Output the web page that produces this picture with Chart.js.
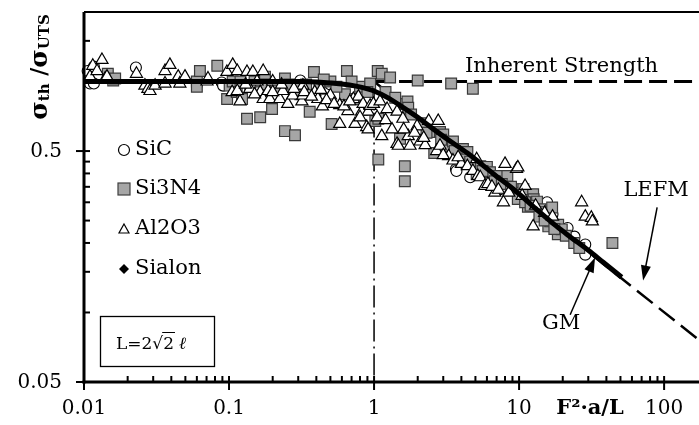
<!DOCTYPE html>
<html>
<head>
<meta charset="utf-8">
<script src="https://cdn.jsdelivr.net/npm/chart.js@4.4.0/dist/chart.umd.min.js"></script>
<style>
  html, body { margin: 0; padding: 0; background: #fff; overflow: hidden; }
  canvas { display: block; }
</style>
</head>
<body>
<canvas id="chart" width="699" height="425"></canvas>
<script>
// tick values
var xTicks = [0.01, 0.1, 1, 10, 100];
var xTickLabels = ['0.01', '0.1', '1', '10', '100'];
var yTicks = [0.05, 0.5];
var yTickLabels = ['0.05', '0.5'];
var minorSteps = [2, 3, 4, 5, 6, 7, 8, 9];
var yMinor = [0.1, 0.15, 0.2, 0.25, 0.3, 0.35, 0.4, 0.45, 1.0, 1.5];

// SiC (open circles)
var sicX = [0.0106, 0.011, 0.0117, 0.0117, 0.0228, 0.089, 0.091, 0.31, 0.5, 3.67, 3.7, 4.6, 7.4, 10.2, 15.6, 17, 21.6, 24.1, 28.6, 28.6];
var sicY = [1.11, 0.98, 1.16, 0.98, 1.15, 0.99, 0.96, 1.01, 0.97, 0.418, 0.41, 0.385, 0.342, 0.325, 0.30, 0.266, 0.232, 0.213, 0.197, 0.178];

// Si3N4 (grey squares)
var si3n4X = [0.0146, 0.0159, 0.0164, 0.06, 0.06, 0.063, 0.083, 0.097, 0.101, 0.106, 0.113, 0.123, 0.133, 0.15, 0.164, 0.177, 0.198, 0.243, 0.243, 0.285,
  0.295, 0.31, 0.36, 0.385, 0.42, 0.5, 0.51, 0.63, 0.65, 0.74, 0.8, 0.87, 0.94, 1.02, 1.06, 1.07, 1.07, 1.13, 1.29, 1.51,
  1.58, 1.63, 1.63, 1.7, 1.72, 2.0, 2.55, 2.6, 2.85, 3.0, 3.2, 3.4, 3.5, 3.8, 3.9, 4.1, 4.4, 4.8, 5.1, 5.4,
  6.0, 6.3, 7.1, 8.3, 9.3, 10.2, 10.7, 11.5, 12.5, 12.6, 13.3, 14.0, 14.6, 15.9, 16.4, 16.9, 18.5, 18.6, 19.7, 44,
  0.12, 0.14, 0.18, 0.21, 0.26, 0.34, 0.45, 0.55, 0.7, 0.9, 1.2, 1.4, 1.8, 2.2, 2.3, 2.9, 3.6, 4.2, 4.6, 5.6,
  6.8, 7.6, 8.8, 9.8, 11, 12, 13.8, 15, 17.5, 21, 24, 26];
var si3n4Y = [1.08, 1.01, 1.03, 1.0, 0.95, 1.11, 1.17, 0.84, 0.96, 1.0, 0.90, 0.84, 0.69, 1.0, 0.70, 1.05, 0.76, 1.03, 0.61, 0.585,
  0.93, 0.88, 0.74, 1.10, 0.93, 1.0, 0.655, 0.88, 1.11, 0.84, 0.95, 0.76, 0.98, 0.675, 1.11, 0.69, 0.46, 1.08, 1.04, 0.565,
  0.80, 0.43, 0.37, 0.82, 0.77, 1.01, 0.605, 0.49, 0.605, 0.59, 0.527, 0.98, 0.55, 0.46, 0.495, 0.51, 0.495, 0.93, 0.397, 0.43,
  0.427, 0.405, 0.39, 0.39, 0.342, 0.33, 0.342, 0.287, 0.325, 0.309, 0.302, 0.28, 0.272, 0.236, 0.248, 0.285, 0.218, 0.24, 0.229, 0.20,
  1.0, 0.95, 0.97, 0.93, 0.97, 0.97, 1.02, 0.95, 1.0, 0.9, 0.9, 0.85, 0.72, 0.66, 0.6, 0.56, 0.5, 0.46, 0.45, 0.41,
  0.37, 0.36, 0.35, 0.31, 0.30, 0.29, 0.26, 0.25, 0.23, 0.215, 0.2, 0.19];

// Al2O3 (open triangles)
var al2o3X = [0.011, 0.0115, 0.0123, 0.0133, 0.014, 0.0144, 0.023, 0.0263, 0.0276, 0.0285, 0.0309, 0.0362, 0.0362, 0.0391, 0.0446, 0.0458, 0.0497, 0.0705, 0.0716, 0.0967,
  0.105, 0.106, 0.114, 0.114, 0.119, 0.133, 0.139, 0.146, 0.156, 0.164, 0.172, 0.172, 0.186, 0.191, 0.2, 0.224, 0.235, 0.254, 0.275, 0.318,
  0.323, 0.323, 0.39, 0.41, 0.44, 0.5, 0.58, 0.58, 0.66, 0.72, 0.74, 0.78, 0.82, 0.84, 0.89, 0.91, 0.91, 0.94, 0.99, 1.1,
  1.13, 1.23, 1.33, 1.44, 1.44, 1.47, 1.58, 1.72, 1.77, 1.98, 2.08, 2.25, 2.38, 2.7, 2.77, 2.85, 3.27, 3.5, 4.0, 4.4,
  4.8, 5.1, 5.2, 5.4, 5.8, 6.1, 6.8, 7.8, 8.0, 9.6, 9.8, 11.0, 12.5, 27, 28.6, 31.5, 32,
  0.13, 0.15, 0.2, 0.23, 0.28, 0.33, 0.37, 0.43, 0.47, 0.53, 0.62, 0.68, 0.8, 1.05, 1.2, 1.6, 1.9, 2.2, 3.0, 3.8,
  6.5, 7.2, 8.5, 10.5, 13, 15, 17];
var al2o3Y = [1.05, 1.17, 1.11, 1.24, 1.03, 1.05, 1.08, 0.96, 0.93, 0.91, 0.96, 1.11, 0.98, 1.18, 1.05, 0.98, 1.05, 1.0, 1.03, 1.10,
  0.90, 1.18, 1.11, 0.91, 0.82, 1.10, 0.93, 1.10, 1.0, 0.90, 1.11, 0.84, 0.91, 0.84, 1.0, 0.84, 0.91, 0.80, 0.87, 0.82,
  0.96, 0.87, 0.90, 0.84, 0.78, 0.87, 0.79, 0.655, 0.745, 0.84, 0.655, 0.86, 0.74, 0.80, 0.635, 0.74, 0.62, 0.785, 0.80, 0.82,
  0.58, 0.76, 0.62, 0.74, 0.537, 0.527, 0.69, 0.58, 0.527, 0.64, 0.55, 0.53, 0.675, 0.50, 0.675, 0.527, 0.475, 0.455, 0.44, 0.43,
  0.41, 0.461, 0.39, 0.385, 0.353, 0.36, 0.33, 0.30, 0.44, 0.418, 0.425, 0.353, 0.236, 0.30, 0.26, 0.257, 0.248,
  0.97, 0.88, 0.9, 0.97, 0.93, 0.9, 0.86, 0.92, 0.83, 0.8, 0.78, 0.82, 0.7, 0.7, 0.68, 0.62, 0.6, 0.57, 0.48, 0.47,
  0.35, 0.34, 0.33, 0.32, 0.29, 0.27, 0.26];

// Sialon (black diamonds) - not visible in the plot body
var sialonX = [];
var sialonY = [];

// GM model curve
var gmX = [0.01, 0.05, 0.1, 0.2, 0.3, 0.45, 0.6, 0.75, 0.9, 1.0, 1.25, 1.5, 2.0, 2.5, 3.3, 4.4, 6.6, 9.5, 13, 18, 22, 30, 38, 51];
var gmY = [1.0, 1.0, 1.0, 1.0, 1.0, 0.99, 0.975, 0.955, 0.93, 0.91, 0.85, 0.79, 0.70, 0.63, 0.555, 0.49, 0.40, 0.335, 0.282, 0.237, 0.215, 0.186, 0.165, 0.142];

// reference lines
var inherentX = [1, 174];
var inherentY = [1, 1];
var lefmX = [1, 174];
var lefmY = [1, 0.076];
var critX = [1, 1];
var critY = [1, 0.05];

var FONT = '"DejaVu Serif", serif';

function pts(xs, ys) {
  return xs.map(function (x, i) { return { x: x, y: ys[i] }; });
}

function line(ctx, x1, y1, x2, y2) {
  ctx.beginPath(); ctx.moveTo(x1, y1); ctx.lineTo(x2, y2); ctx.stroke();
}

function arrow(ctx, x1, y1, x2, y2) {
  var ang = Math.atan2(y2 - y1, x2 - x1), len = 15, w = 5;
  ctx.lineWidth = 1.5;
  line(ctx, x1, y1, x2 - Math.cos(ang) * len * 0.8, y2 - Math.sin(ang) * len * 0.8);
  ctx.beginPath();
  ctx.moveTo(x2, y2);
  ctx.lineTo(x2 - Math.cos(ang) * len - Math.sin(ang) * w, y2 - Math.sin(ang) * len + Math.cos(ang) * w);
  ctx.lineTo(x2 - Math.cos(ang) * len + Math.sin(ang) * w, y2 - Math.sin(ang) * len - Math.cos(ang) * w);
  ctx.closePath();
  ctx.fill();
}

var decor = {
  id: 'decor',
  afterDatasetsDraw: function (chart) {
    var ctx = chart.ctx, a = chart.chartArea, xs = chart.scales.x, ys = chart.scales.y;
    ctx.save();
    ctx.strokeStyle = '#000';
    ctx.fillStyle = '#000';

    // ticks
    ctx.lineWidth = 2;
    xTicks.forEach(function (d) {
      minorSteps.forEach(function (m) {
        var v = d * m;
        if (v < xs.max) { var p = xs.getPixelForValue(v); line(ctx, p, a.bottom, p, a.bottom - 6); }
      });
      var p = xs.getPixelForValue(d);
      line(ctx, p, a.bottom - 6, p, a.bottom + 8);
    });
    yMinor.forEach(function (v) {
      var p = ys.getPixelForValue(v); line(ctx, a.left, p, a.left + 6, p);
    });
    yTicks.forEach(function (v) {
      var p = ys.getPixelForValue(v); line(ctx, a.left - 8, p, a.left + 6, p);
    });

    // tick labels
    ctx.font = '20px ' + FONT;
    ctx.textBaseline = 'middle';
    ctx.textAlign = 'center';
    xTicks.forEach(function (v, i) { ctx.fillText(xTickLabels[i], xs.getPixelForValue(v), a.bottom + 27); });
    ctx.textAlign = 'right';
    yTicks.forEach(function (v, i) { ctx.fillText(yTickLabels[i], a.left - 22, ys.getPixelForValue(v) + 1); });

    // axes and frame
    ctx.lineWidth = 3;
    line(ctx, a.left, a.top, a.left, a.bottom + 1.5);
    line(ctx, a.left - 1.5, a.bottom, a.right, a.bottom);
    ctx.lineWidth = 2;
    line(ctx, a.left, a.top, a.right, a.top);

    // annotations
    ctx.font = '21px ' + FONT;
    ctx.textBaseline = 'alphabetic';
    ctx.textAlign = 'left';
    ctx.fillText('Inherent Strength', xs.getPixelForValue(4.24), ys.getPixelForValue(1.10));
    ctx.textAlign = 'center';
    ctx.fillText('LEFM', xs.getPixelForValue(88), ys.getPixelForValue(0.318));
    ctx.textBaseline = 'middle';
    ctx.fillText('GM', xs.getPixelForValue(19.5), ys.getPixelForValue(0.0894));
    arrow(ctx, xs.getPixelForValue(89.5), ys.getPixelForValue(0.285), xs.getPixelForValue(71.6), ys.getPixelForValue(0.1375));
    arrow(ctx, xs.getPixelForValue(22.5), ys.getPixelForValue(0.0978), xs.getPixelForValue(33.4), ys.getPixelForValue(0.173));

    // legend
    var lx = 124, tx = 135;
    ctx.textAlign = 'left';
    ctx.textBaseline = 'middle';
    ctx.font = '21px ' + FONT;
    ctx.lineWidth = 1.2;
    // SiC
    ctx.fillStyle = '#fff';
    ctx.beginPath(); ctx.arc(lx, 150, 5.5, 0, Math.PI * 2); ctx.fill(); ctx.stroke();
    ctx.fillStyle = '#000'; ctx.fillText('SiC', tx, 150);
    // Si3N4
    ctx.fillStyle = '#a6a6a6'; ctx.strokeStyle = '#404040';
    ctx.fillRect(lx - 6, 189 - 6, 12, 12); ctx.strokeRect(lx - 6, 189 - 6, 12, 12);
    ctx.strokeStyle = '#000';
    ctx.fillStyle = '#000'; ctx.fillText('Si3N4', tx, 189);
    // Al2O3
    ctx.fillStyle = '#fff';
    ctx.beginPath(); ctx.moveTo(lx, 224); ctx.lineTo(lx + 5, 233); ctx.lineTo(lx - 5, 233); ctx.closePath(); ctx.fill(); ctx.stroke();
    ctx.fillStyle = '#000'; ctx.fillText('Al2O3', tx, 229);
    // Sialon
    ctx.beginPath(); ctx.moveTo(lx, 264); ctx.lineTo(lx + 5, 269); ctx.lineTo(lx, 274); ctx.lineTo(lx - 5, 269); ctx.closePath(); ctx.fill();
    ctx.fillText('Sialon', tx, 269);

    // L box
    ctx.lineWidth = 1.3;
    ctx.strokeRect(100.5, 316.5, 114, 50);
    ctx.font = '17px ' + FONT;
    ctx.textBaseline = 'alphabetic';
    var bx = 116, by = 349;
    ctx.fillText('L=2', bx, by); bx += ctx.measureText('L=2').width;
    ctx.fillText('\u221A', bx, by); bx += ctx.measureText('\u221A').width;
    var w2 = ctx.measureText('2').width;
    ctx.fillText('2', bx, by);
    ctx.lineWidth = 1;
    line(ctx, bx - 1, by - 16.5, bx + w2 + 1, by - 16.5);
    bx += w2 + 5;
    ctx.font = 'italic 17px ' + FONT;
    ctx.fillText('\u2113', bx, by);

    // x title
    ctx.font = 'bold 21px ' + FONT;
    ctx.textAlign = 'center';
    ctx.textBaseline = 'middle';
    ctx.fillText('F\u00B2\u00B7a/L', 590, a.bottom + 27);

    // y title
    ctx.save();
    ctx.translate(40, 67);
    ctx.rotate(-Math.PI / 2);
    var parts = [
      { t: '\u03C3', f: 'bold 25px ' + FONT, dy: 0 },
      { t: 'th', f: 'bold 15px ' + FONT, dy: 5 },
      { t: ' /', f: 'bold 22px ' + FONT, dy: 0 },
      { t: '\u03C3', f: 'bold 25px ' + FONT, dy: 0 },
      { t: 'UTS', f: 'bold 15px ' + FONT, dy: 5 }
    ];
    var total = 0;
    parts.forEach(function (p) { ctx.font = p.f; p.w = ctx.measureText(p.t).width; total += p.w; });
    var px = -total / 2;
    ctx.textAlign = 'left';
    ctx.textBaseline = 'middle';
    parts.forEach(function (p) { ctx.font = p.f; ctx.fillText(p.t, px, p.dy); px += p.w; });
    ctx.restore();

    ctx.restore();
  }
};

new Chart(document.getElementById('chart'), {
  type: 'scatter',
  data: {
    datasets: [
      { label: 'GM', data: pts(gmX, gmY), showLine: true, borderColor: '#000', borderWidth: 5,
        pointRadius: 0, cubicInterpolationMode: 'monotone', order: 0 },
      { label: 'Al2O3', data: pts(al2o3X, al2o3Y), pointStyle: 'triangle', pointRadius: 7,
        backgroundColor: '#fff', borderColor: '#000', borderWidth: 1.2, clip: false, order: 1 },
      { label: 'Si3N4', data: pts(si3n4X, si3n4Y), pointStyle: 'rect', pointRadius: 7.6,
        backgroundColor: '#a6a6a6', borderColor: '#3a3a3a', borderWidth: 1.2, clip: false, order: 2 },
      { label: 'SiC', data: pts(sicX, sicY), pointStyle: 'circle', pointRadius: 5.5,
        backgroundColor: '#fff', borderColor: '#000', borderWidth: 1.1, clip: false, order: 3 },
      { label: 'Sialon', data: pts(sialonX, sialonY), pointStyle: 'rectRot', pointRadius: 5,
        backgroundColor: '#000', borderColor: '#000', order: 4 },
      { label: 'Inherent Strength', data: pts(inherentX, inherentY), showLine: true, borderColor: '#000',
        borderWidth: 3, borderDash: [18, 7], pointRadius: 0, order: 5 },
      { label: 'LEFM', data: pts(lefmX, lefmY), showLine: true, borderColor: '#000',
        borderWidth: 2.5, borderDash: [20, 8], pointRadius: 0, order: 6 },
      { label: 'critical', data: pts(critX, critY), showLine: true, borderColor: '#000',
        borderWidth: 1.5, borderDash: [22, 5, 2, 5], pointRadius: 0, order: 7 }
    ]
  },
  options: {
    responsive: false,
    animation: false,
    layout: { autoPadding: false, padding: { top: 12, right: 0, left: 0, bottom: 0 } },
    plugins: { legend: { display: false }, tooltip: { enabled: false } },
    scales: {
      x: {
        type: 'logarithmic', min: 0.01, max: 174,
        grid: { display: false, drawTicks: false },
        border: { display: false },
        ticks: { display: false },
        afterFit: function (s) { s.height = 43; }
      },
      y: {
        type: 'logarithmic', min: 0.05, max: 2,
        grid: { display: false, drawTicks: false },
        border: { display: false },
        ticks: { display: false },
        afterFit: function (s) { s.width = 84; }
      }
    }
  },
  plugins: [decor]
});
</script>
</body>
</html>
